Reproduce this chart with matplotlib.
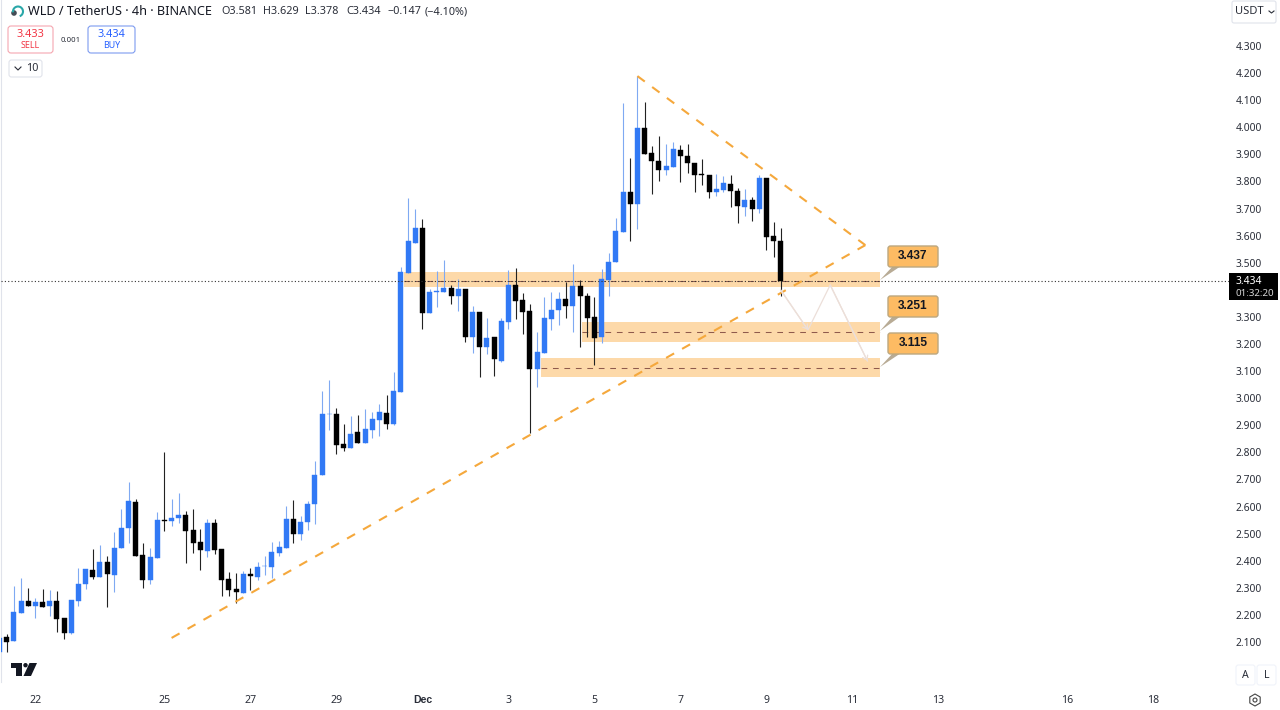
import numpy as np
import matplotlib
matplotlib.use("Agg")
import matplotlib.pyplot as plt
from matplotlib.patches import FancyBboxPatch, Polygon, Circle, Arc, Rectangle, RegularPolygon

plt.rcParams['font.family'] = ['Noto Sans', 'DejaVu Sans']

# candles, 4h, index 0 is 22 Nov 00:00, first candle is index -5
first_index = -5
opens = [2.063, 2.118, 2.103, 2.208, 2.250, 2.234, 2.248, 2.232, 2.251, 2.189,
         2.134, 2.252, 2.313, 2.366, 2.341, 2.395, 2.347, 2.446, 2.521, 2.617,
         2.420, 2.329, 2.410, 2.550, 2.548, 2.558, 2.569, 2.512, 2.468, 2.437,
         2.538, 2.442, 2.331, 2.296, 2.281, 2.350, 2.341, 2.381, 2.378, 2.430,
         2.448, 2.554, 2.500, 2.542, 2.608, 2.715, 2.940, 2.943, 2.830, 2.815,
         2.874, 2.833, 2.884, 2.919, 2.946, 2.906, 3.024, 3.463, 3.574, 3.629,
         3.313, 3.393, 3.393, 3.407, 3.376, 3.404, 3.227, 3.318, 3.189, 3.225,
         3.138, 3.281, 3.417, 3.362, 3.322, 3.107, 3.166, 3.292, 3.324, 3.365,
         3.341, 3.413, 3.377, 3.300, 3.226, 3.436, 3.501, 3.613, 3.760, 3.716,
         3.997, 3.904, 3.877, 3.842, 3.855, 3.917, 3.893, 3.867, 3.826, 3.825,
         3.762, 3.769, 3.791, 3.765, 3.706, 3.731, 3.700, 3.814, 3.598, 3.581]
highs = [2.115, 2.128, 2.308, 2.335, 2.300, 2.262, 2.296, 2.293, 2.288, 2.189,
         2.254, 2.372, 2.369, 2.442, 2.458, 2.419, 2.507, 2.592, 2.690, 2.628,
         2.464, 2.448, 2.581, 2.801, 2.627, 2.651, 2.585, 2.590, 2.516, 2.553,
         2.553, 2.442, 2.358, 2.354, 2.363, 2.372, 2.394, 2.417, 2.470, 2.473,
         2.602, 2.624, 2.565, 2.620, 2.768, 3.027, 3.066, 2.963, 2.904, 2.934,
         2.938, 2.959, 2.948, 2.977, 3.012, 3.097, 3.483, 3.738, 3.697, 3.660,
         3.402, 3.471, 3.510, 3.419, 3.439, 3.404, 3.340, 3.318, 3.296, 3.225,
         3.295, 3.473, 3.482, 3.387, 3.347, 3.244, 3.372, 3.393, 3.393, 3.430,
         3.494, 3.436, 3.387, 3.372, 3.476, 3.537, 3.665, 4.089, 3.886, 4.189,
         4.092, 3.931, 3.968, 3.937, 3.945, 3.933, 3.938, 3.867, 3.883, 3.825,
         3.828, 3.820, 3.823, 3.775, 3.771, 3.742, 3.823, 3.814, 3.650, 3.629]
lows = [2.063, 2.062, 2.103, 2.208, 2.234, 2.187, 2.228, 2.197, 2.136, 2.112,
        2.131, 2.234, 2.296, 2.331, 2.341, 2.230, 2.286, 2.446, 2.464, 2.419,
        2.300, 2.314, 2.410, 2.510, 2.529, 2.538, 2.392, 2.430, 2.367, 2.414,
        2.426, 2.270, 2.270, 2.245, 2.281, 2.293, 2.329, 2.346, 2.335, 2.419,
        2.448, 2.464, 2.477, 2.513, 2.534, 2.715, 2.883, 2.793, 2.805, 2.815,
        2.833, 2.833, 2.852, 2.862, 2.886, 2.901, 3.024, 3.463, 3.574, 3.255,
        3.313, 3.338, 3.393, 3.348, 3.323, 3.209, 3.167, 3.077, 3.163, 3.082,
        3.134, 3.254, 3.291, 3.237, 2.870, 3.042, 3.166, 3.252, 3.270, 3.297,
        3.245, 3.190, 3.227, 3.123, 3.205, 3.377, 3.501, 3.613, 3.581, 3.623,
        3.903, 3.754, 3.802, 3.823, 3.855, 3.799, 3.830, 3.762, 3.787, 3.740,
        3.747, 3.760, 3.707, 3.646, 3.673, 3.655, 3.682, 3.546, 3.522, 3.378]
closes = [2.115, 2.101, 2.211, 2.251, 2.234, 2.248, 2.230, 2.250, 2.186, 2.134,
          2.254, 2.314, 2.369, 2.341, 2.395, 2.350, 2.447, 2.521, 2.619, 2.419,
          2.329, 2.414, 2.550, 2.548, 2.559, 2.570, 2.510, 2.465, 2.440, 2.538,
          2.438, 2.330, 2.291, 2.285, 2.350, 2.343, 2.378, 2.382, 2.432, 2.450,
          2.554, 2.499, 2.544, 2.611, 2.715, 2.941, 2.942, 2.827, 2.815, 2.869,
          2.833, 2.886, 2.922, 2.948, 2.906, 3.027, 3.465, 3.580, 3.627, 3.316,
          3.391, 3.395, 3.407, 3.376, 3.404, 3.227, 3.318, 3.189, 3.222, 3.145,
          3.285, 3.417, 3.358, 3.319, 3.107, 3.169, 3.296, 3.324, 3.365, 3.341,
          3.413, 3.377, 3.297, 3.223, 3.441, 3.502, 3.616, 3.760, 3.716, 3.997,
          3.903, 3.874, 3.842, 3.856, 3.919, 3.893, 3.868, 3.823, 3.824, 3.762,
          3.772, 3.793, 3.764, 3.709, 3.731, 3.700, 3.814, 3.595, 3.580, 3.434]

# 3.400 sits behind the last price tag in the reference, so no label for it
price_ticks = [2.1, 2.2, 2.3, 2.4, 2.5, 2.6, 2.7, 2.8, 2.9, 3.0, 3.1, 3.2,
               3.3, 3.5, 3.6, 3.7, 3.8, 3.9, 4.0, 4.1, 4.2, 4.3]
date_ticks = [0, 18, 30, 42, 54, 66, 78, 90, 102, 114, 126, 144, 156]
date_labels = ['22', '25', '27', '29', 'Dec', '3', '5', '7', '9', '11', '13', '16', '18']

last_price = 3.434

# drawings on the chart
zone_left = [51.4, 76.2, 70.5]
zone_top = [3.464, 3.282, 3.147]
zone_bottom = [3.412, 3.209, 3.079]
zone_mid = [3.434, 3.245, 3.110]
zone_right = 117.9
upper_trend_x = [84, 115.8]
upper_trend_y = [4.189, 3.565]
lower_trend_x = [19, 115.8]
lower_trend_y = [2.115, 3.565]
path_x = [104, 107.8, 110.9, 116.1]
path_y = [3.399, 3.252, 3.418, 3.137]
callout_labels = ['3.437', '3.251', '3.115']

BLUE = '#3179f5'
BLACK = '#000000'
ORANGE = '#f5a83c'
ZONE = '#fdd9a9'
TEXT = '#2a2e39'
PATH = '#ecdfd9'

W, H = 1280, 710
AX_L, AX_R, AX_B = 1, 1230, 682
X_ZERO = 35.4
PX_PER_BAR = 7.167
PX_PER_PRICE = 270.9


def main():
    fig = plt.figure(figsize=(W / 100, H / 100), dpi=100, facecolor='white')
    ax = fig.add_axes([AX_L / W, 1 - AX_B / H, (AX_R - AX_L) / W, AX_B / H])

    # pixel calibration
    ax.set_xlim((AX_L - X_ZERO) / PX_PER_BAR, (AX_R - X_ZERO) / PX_PER_BAR)
    ax.set_ylim(2.1 - (AX_B - 642) / PX_PER_PRICE, 2.1 + 642 / PX_PER_PRICE)

    idx = np.arange(first_index, first_index + len(opens))
    o, h, l, c = map(np.array, (opens, highs, lows, closes))
    up = c >= o
    colors = np.where(up, BLUE, BLACK)
    wick_colors = np.where(up, '#7fa9f2', '#222222')

    # zones go under the candles
    for left, top, bottom, mid in zip(zone_left, zone_top, zone_bottom, zone_mid):
        ax.add_patch(Rectangle((left, bottom), zone_right - left, top - bottom,
                               fc=ZONE, ec='none', zorder=1))
        ax.plot([left, zone_right], [mid, mid], color='#8f5a4c', lw=0.75,
                ls=(0, (5.5, 5.5)), zorder=2)

    ax.vlines(idx, l, h, colors=wick_colors, lw=0.8, zorder=3)
    ax.bar(idx, c - o, bottom=o, width=0.68, color=colors, edgecolor=colors,
           linewidth=0.3, zorder=4)

    ax.axhline(last_price, color='#333333', lw=0.8, ls=(0, (1, 2)), zorder=5)

    ax.plot(upper_trend_x, upper_trend_y, color=ORANGE, lw=1.5, ls=(0, (4.4, 4.4)), zorder=6)
    ax.plot(lower_trend_x, lower_trend_y, color=ORANGE, lw=1.5, ls=(0, (4.4, 4.4)), zorder=6)

    ax.plot(path_x, path_y, color=PATH, lw=0.9, zorder=6)
    for i in [0, 2]:
        ax.annotate('', xy=(path_x[i + 1], path_y[i + 1]), xytext=(path_x[i], path_y[i]),
                    arrowprops=dict(arrowstyle='->,head_length=0.3,head_width=0.2',
                                    color=PATH, lw=0.9, shrinkA=0, shrinkB=0), zorder=6)

    ax.set_xticks(date_ticks)
    ax.set_xticklabels(date_labels)
    ax.set_yticks(price_ticks)
    ax.set_yticklabels(['%.3f' % p for p in price_ticks])
    ax.yaxis.tick_right()
    ax.tick_params(axis='y', length=0, pad=4.3, labelsize=7.4, labelcolor=TEXT)
    ax.tick_params(axis='x', length=0, pad=9.3, labelsize=7.6, labelcolor=TEXT)
    dec_label = ax.get_xticklabels()[4]
    dec_label.set_family('Liberation Sans')
    dec_label.set_fontweight('bold')
    for side in ['top', 'right', 'bottom']:
        ax.spines[side].set_visible(False)
    ax.spines['left'].set_color('#e0e3eb')

    # overlay in pixels for the TradingView interface
    ui = fig.add_axes([0, 0, 1, 1], facecolor='none')
    ui.set_xlim(0, W)
    ui.set_ylim(H, 0)
    ui.axis('off')

    def box(x0, y0, x1, y1, fc='white', ec='#e0e3eb', r=3, lw=0.8, z=10):
        ui.add_patch(FancyBboxPatch((x0 + r, y0 + r), x1 - x0 - 2 * r, y1 - y0 - 2 * r,
                                    boxstyle='round,pad=%g,rounding_size=%g' % (r, r),
                                    fc=fc, ec=ec, lw=lw, zorder=z))

    def label(x, y, s, size=8, color=TEXT, ha='left', z=12, **kw):
        ui.text(x, y, s, fontsize=size, color=color, ha=ha, va='center', zorder=z, **kw)

    # callouts
    for (y0, y1, anchor), s in zip([(246, 267, 280), (296, 317, 331), (333, 354, 367)],
                                   callout_labels):
        ui.add_patch(Polygon([(880, anchor), (893, y1 - 1), (901, y1 - 1)],
                             fc='#b8ab95', ec='none', zorder=9))
        box(888, y0, 938, y1, fc='#fdbb63', ec='#bca77f', r=2.5, lw=1.0)
        label(913, (y0 + y1) / 2 - 0.5, s, size=8.6, color='#131722', ha='center',
              family='Liberation Sans', fontweight='bold')

    # header
    ui.add_patch(Circle((14, 13), 2.8, fc='#444b54', ec='none', zorder=11))
    ui.add_patch(Arc((18, 11.5), 10, 10, theta1=-190, theta2=70, color='#2aa7a8', lw=1.5, zorder=11))
    label(28, 11.5, 'WLD / TetherUS · 4h · BINANCE', size=9.1, color='#131722')
    for x, s in [(221, 'O3.581'), (263, 'H3.629'), (305, 'L3.378'), (346, 'C3.434'),
                 (387, '−0.147'), (425, '(−4.10%)')]:
        label(x, 12, s, size=7.8)

    box(8, 26, 53, 53, ec='#f5a6b0', r=3)
    label(30.5, 34.5, '3.433', size=7.8, color='#f23645', ha='center')
    label(30.5, 46, 'SELL', size=6.4, color='#f23645', ha='center')
    label(71, 40, '0.001', size=5.6, ha='center')
    box(88, 26, 135, 53, ec='#7d9bf0', r=3)
    label(111.5, 34.5, '3.434', size=7.8, color='#2962ff', ha='center')
    label(111.5, 46, 'BUY', size=6.4, color='#2962ff', ha='center')

    box(9, 60, 42, 77, r=2.5)
    ui.plot([15, 18, 21], [67, 70, 67], color=TEXT, lw=0.8, zorder=12)
    label(26, 68.5, '10', size=7.8)

    # right hand scale bits
    box(1232, 1, 1276, 23, r=2)
    label(1235, 12, 'USDT', size=8)
    ui.plot([1269, 1271.5, 1274], [11, 13, 11], color=TEXT, lw=0.8, zorder=12)

    ui.add_patch(Rectangle((1229, 273), 49, 27, fc='#000000', ec='none', zorder=10))
    label(1236, 281, '3.434', size=7.4, color='white')
    label(1236, 293, '01:32:20', size=7.0, color='#d8d8d8')

    box(1236, 665, 1255, 685, ec='#f0f3fa', r=2.5)
    box(1257, 665, 1276, 685, ec='#f0f3fa', r=2.5)
    label(1245.5, 675, 'A', size=7.6, ha='center')
    label(1266.5, 675, 'L', size=7.6, ha='center')
    ui.add_patch(RegularPolygon((1255, 700), 6, radius=6, fc='none', ec='#444444', lw=0.8, zorder=12))
    ui.add_patch(Circle((1255, 700), 2, fc='none', ec='#444444', lw=0.8, zorder=12))

    # logo
    ui.add_patch(Polygon([(11, 663), (21.5, 663), (21.5, 676), (16, 676), (16, 667.5), (11, 667.5)],
                         fc='#131722', ec='none', zorder=12))
    ui.add_patch(Circle((25.5, 665.2), 2.2, fc='#131722', ec='none', zorder=12))
    ui.add_patch(Polygon([(29.5, 663), (37, 663), (31, 676), (23.5, 676)],
                         fc='#131722', ec='none', zorder=12))

    fig.savefig('out.png', dpi=100)


main()
